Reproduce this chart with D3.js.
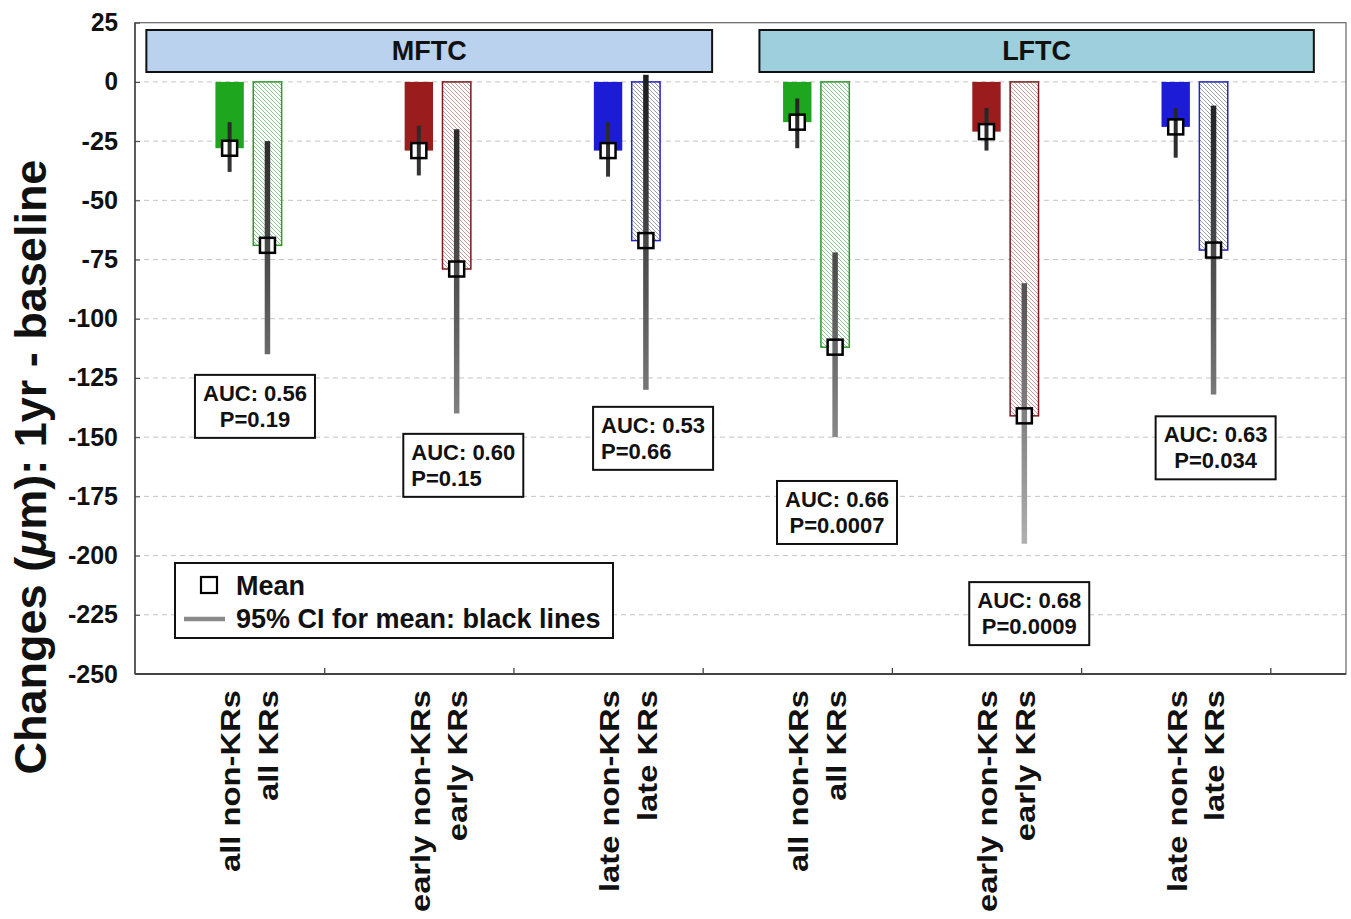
<!DOCTYPE html>
<html>
<head>
<meta charset="utf-8">
<script src="https://cdn.jsdelivr.net/npm/d3@7"></script>
<style>
  html, body { margin: 0; padding: 0; background: #fff; }
  svg { display: block; font-family: "Liberation Sans", Arial, sans-serif; font-weight: bold; }
</style>
</head>
<body>
<svg id="chart" width="1351" height="919"></svg>
<script>
// ---------------- DATA ----------------
const regions      = ["MFTC", "LFTC"];
const nonKRLabels  = ["all non-KRs", "early non-KRs", "late non-KRs", "all non-KRs", "early non-KRs", "late non-KRs"];
const krLabels     = ["all KRs", "early KRs", "late KRs", "all KRs", "early KRs", "late KRs"];
const colorKeys    = ["green", "red", "blue", "green", "red", "blue"];
const nonKRMean    = [-28, -29, -29, -17, -21, -19];
const nonKRLow     = [-38, -39.5, -40, -28, -29, -32];
const nonKRHigh    = [-17, -18.5, -17, -7, -11, -11];
const krMean       = [-69, -79, -67, -112, -141, -71];
const krLow        = [-115, -140, -130, -150, -195, -132];
const krHigh       = [-25, -20, 3, -72, -85, -10];
const aucValues    = ["0.56", "0.60", "0.53", "0.66", "0.68", "0.63"];
const pValues      = ["0.19", "0.15", "0.66", "0.0007", "0.0009", "0.034"];
const yTicks       = [25, 0, -25, -50, -75, -100, -125, -150, -175, -200, -225, -250];
const yTitle       = ["Changes (", "\u03BC", "m): 1yr - baseline"];
const legendLabels = ["Mean", "95% CI for mean: black lines"];

// ---------------- STYLE / LAYOUT ----------------
const palette = {
  green: { solid: "#1fa61f", edge: "#2b9a2b", hatch: "#8cc98c" },
  red:   { solid: "#9b1c1c", edge: "#7a1a1a", hatch: "#c99a9a" },
  blue:  { solid: "#1c1cd6", edge: "#2424c0", hatch: "#9a9aa6" }
};
const headerFill = { MFTC: "#bad2ee", LFTC: "#9dcfdc" };
const headerSpan = { MFTC: [0.06, 3.05], LFTC: [3.30, 6.23] };
// annotation box: [x-center in group units, top value, align]
const annoLayout = [
  [0.634, -123.7, "middle"], [1.735, -148.6, "start"], [2.738, -137.2, "start"],
  [3.710, -168.5, "middle"], [4.726, -211.2, "middle"], [5.711, -141.2, "middle"]
];

const plot = { left: 135, right: 1346, top: 22.7, bottom: 674 };
const svg = d3.select("#chart");

const x = d3.scaleLinear().domain([0, 6.4]).range([plot.left, plot.right]);
const y = d3.scaleLinear().domain([-250, 25]).range([plot.bottom, plot.top]);
const barW = x(0.15) - x(0);
const krOffset = 0.2;

// defs: hatch patterns, CI gradient
const defs = svg.append("defs");
Object.entries(palette).forEach(([k, c]) => {
  const p = defs.append("pattern")
    .attr("id", "hatch-" + k).attr("patternUnits", "userSpaceOnUse")
    .attr("width", 4).attr("height", 4);
  p.append("rect").attr("width", 4).attr("height", 4).attr("fill", "#fff");
  p.append("path").attr("d", "M-1,-1 L5,5 M-1,3 L1,5 M3,-1 L5,1")
    .attr("stroke", c.hatch).attr("stroke-width", 1);
});
const grad = defs.append("linearGradient").attr("id", "ciGrad")
  .attr("gradientUnits", "userSpaceOnUse")
  .attr("x1", 0).attr("x2", 0).attr("y1", y(0)).attr("y2", y(-200));
grad.append("stop").attr("offset", 0).attr("stop-color", "#1e1e1e");
grad.append("stop").attr("offset", 0.45).attr("stop-color", "#555");
grad.append("stop").attr("offset", 1).attr("stop-color", "#b4b4b4");

// grid lines
svg.append("g").selectAll("line").data(yTicks.filter(t => t < 25 && t > -250)).join("line")
  .attr("x1", plot.left).attr("x2", plot.right)
  .attr("y1", d => y(d)).attr("y2", d => y(d))
  .attr("stroke", "#c4c4c4").attr("stroke-width", 1).attr("stroke-dasharray", "5,4");

// frame
svg.append("rect").attr("x", plot.left).attr("y", plot.top)
  .attr("width", plot.right - plot.left).attr("height", plot.bottom - plot.top)
  .attr("fill", "none").attr("stroke", "#666").attr("stroke-width", 1.2);
svg.append("line").attr("x1", plot.left).attr("x2", plot.right)
  .attr("y1", plot.bottom).attr("y2", plot.bottom).attr("stroke", "#444").attr("stroke-width", 1.8);
svg.append("line").attr("x1", plot.left).attr("x2", plot.left)
  .attr("y1", plot.top).attr("y2", plot.bottom).attr("stroke", "#444").attr("stroke-width", 1.5);

// y axis
const yAxis = d3.axisLeft(y).tickValues(yTicks).tickSize(-5).tickPadding(17).tickFormat(d => String(d));
const gy = svg.append("g").attr("transform", `translate(${plot.left},0)`).call(yAxis);
gy.select(".domain").remove();
gy.selectAll(".tick line").attr("stroke", "#444");
gy.selectAll(".tick text").attr("font-size", 25).attr("font-weight", "bold")
  .attr("font-family", "Liberation Sans, Arial, sans-serif").attr("fill", "#111")
  .attr("textLength", d => String(d).length * 13.5 + (d < 0 ? -4 : 0))
  .attr("lengthAdjust", "spacingAndGlyphs");

// x axis ticks (group separators)
const xAxis = d3.axisBottom(x).tickValues([1, 2, 3, 4, 5, 6]).tickSize(-6).tickFormat("");
const gx = svg.append("g").attr("transform", `translate(0,${plot.bottom})`).call(xAxis);
gx.select(".domain").remove();
gx.selectAll(".tick line").attr("stroke", "#444").attr("stroke-width", 1.3);

// y title
const yt = svg.append("text")
  .attr("transform", `translate(46,467) rotate(-90)`)
  .attr("text-anchor", "middle").attr("font-size", 45).attr("fill", "#111");
yt.append("tspan").text(yTitle[0]);
yt.append("tspan").attr("font-style", "italic").text(yTitle[1]);
yt.append("tspan").text(yTitle[2]);

// header boxes
regions.forEach(r => {
  const [a, b] = headerSpan[r];
  svg.append("rect").attr("x", x(a)).attr("y", 30).attr("width", x(b) - x(a)).attr("height", 42)
    .attr("fill", headerFill[r]).attr("stroke", "#111").attr("stroke-width", 2);
  svg.append("text").attr("x", (x(a) + x(b)) / 2).attr("y", 51).attr("dy", "0.35em")
    .attr("text-anchor", "middle").attr("font-size", 27).attr("fill", "#111").text(r);
});

const idx = d3.range(6);

// bars: non-KR solid
svg.append("g").selectAll("rect").data(idx).join("rect")
  .attr("x", i => x(i + 0.5) - barW / 2).attr("width", barW)
  .attr("y", y(0)).attr("height", i => y(nonKRMean[i]) - y(0))
  .attr("fill", i => palette[colorKeys[i]].solid);
// bars: KR hatched
svg.append("g").selectAll("rect").data(idx).join("rect")
  .attr("x", i => x(i + 0.5 + krOffset) - barW / 2).attr("width", barW)
  .attr("y", y(0)).attr("height", i => y(krMean[i]) - y(0))
  .attr("fill", i => `url(#hatch-${colorKeys[i]})`)
  .attr("stroke", i => palette[colorKeys[i]].edge).attr("stroke-width", 1.5);

// mean markers + CI
const sq = 15;
function drawMeanCI(cx, mean, lo, hi, ciW) {
  svg.append("rect").attr("x", cx - sq / 2).attr("y", y(mean) - sq / 2)
    .attr("width", sq).attr("height", sq).attr("fill", "#fff");
  svg.append("rect").attr("x", cx - ciW / 2).attr("y", y(hi))
    .attr("width", ciW).attr("height", y(lo) - y(hi)).attr("fill", "url(#ciGrad)");
  svg.append("rect").attr("x", cx - sq / 2).attr("y", y(mean) - sq / 2)
    .attr("width", sq).attr("height", sq).attr("fill", "none")
    .attr("stroke", "#000").attr("stroke-width", 2.5);
}
idx.forEach(i => {
  drawMeanCI(x(i + 0.5), nonKRMean[i], nonKRLow[i], nonKRHigh[i], 4);
  drawMeanCI(x(i + 0.5 + krOffset), krMean[i], krLow[i], krHigh[i], 5.5);
});

// annotation boxes
const boxW = 120, boxH = 63;
idx.forEach(i => {
  const [ux, top, align] = annoLayout[i];
  const cx = x(ux), ty = y(top);
  const g = svg.append("g");
  g.append("rect").attr("x", cx - boxW / 2).attr("y", ty).attr("width", boxW).attr("height", boxH)
    .attr("fill", "#fff").attr("stroke", "#111").attr("stroke-width", 2);
  const tx = align === "middle" ? cx : cx - boxW / 2 + 8;
  g.append("text").attr("x", tx).attr("y", ty + 26).attr("text-anchor", align)
    .attr("font-size", 22).attr("fill", "#111").text(`AUC: ${aucValues[i]}`);
  g.append("text").attr("x", tx).attr("y", ty + 52).attr("text-anchor", align)
    .attr("font-size", 22).attr("fill", "#111").text(`P=${pValues[i]}`);
});

// legend
const lg = svg.append("g");
lg.append("rect").attr("x", 175).attr("y", 563).attr("width", 438).attr("height", 75)
  .attr("fill", "#fff").attr("stroke", "#111").attr("stroke-width", 2);
lg.append("rect").attr("x", 201).attr("y", 577).attr("width", 16).attr("height", 16)
  .attr("fill", "#fff").attr("stroke", "#000").attr("stroke-width", 2.2);
lg.append("line").attr("x1", 184).attr("x2", 225).attr("y1", 619).attr("y2", 619)
  .attr("stroke", "#8a8a8a").attr("stroke-width", 4.5);
lg.append("text").attr("x", 236).attr("y", 595).attr("font-size", 27).attr("fill", "#111").text(legendLabels[0]);
lg.append("text").attr("x", 236).attr("y", 628).attr("font-size", 27).attr("fill", "#111").text(legendLabels[1]);

// x labels (rotated)
function xLabel(cx, label) {
  svg.append("text")
    .attr("transform", `translate(${cx},690) rotate(-90) scale(1.17,1)`)
    .attr("text-anchor", "end").attr("dy", "0.35em")
    .attr("font-size", 28).attr("fill", "#111").text(label);
}
idx.forEach(i => {
  xLabel(x(i + 0.5) + 1, nonKRLabels[i]);
  xLabel(x(i + 0.5 + krOffset) + 1, krLabels[i]);
});
</script>
</body>
</html>
